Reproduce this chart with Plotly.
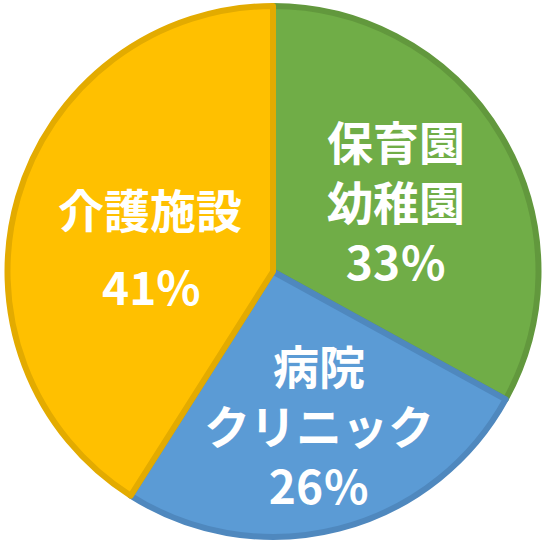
import plotly.graph_objects as go

# データ
categories = ["保育園幼稚園", "病院クリニック", "介護施設"]
values = [33, 26, 41]
name_lines = [["保育園", "幼稚園"], ["病院", "クリニック"], ["介護施設"]]
pct_suffix = ["％", "％", "%"]

colors = ["#70AD47", "#5B9BD5", "#FFC000"]
edge_colors = ["#62983D", "#4F88BE", "#E3AB00"]

W, H = 546, 543
ML, MR, MT, MB = 0, 0, 6, 6

# ラベル位置 (px): 文字ブロックの中心。介護施設だけ名前と%を離して置く
label_pos = [(396, 200), (319, 424), (150, 208)]
pct_pos = [None, None, (151, 285)]


def to_paper(px, py):
    return (px - ML) / (W - ML - MR), 1 - (py - MT) / (H - MT - MB)


fig = go.Figure()
fig.add_trace(go.Pie(
    labels=categories,
    values=values,
    sort=False,
    direction="clockwise",
    rotation=0,
    textinfo="none",
    hoverinfo="label+percent",
    marker=dict(colors=colors, line=dict(color=edge_colors, width=6)),
    showlegend=False,
))

font = dict(family="Noto Sans CJK JP", size=46, color="white", weight="bold")
for i in range(len(values)):
    pct = f"{values[i]}{pct_suffix[i]}"
    if pct_pos[i] is None:
        blocks = [("<br>".join(name_lines[i] + [pct]), label_pos[i])]
    else:
        blocks = [("<br>".join(name_lines[i]), label_pos[i]), (pct, pct_pos[i])]
    for txt, (px, py) in blocks:
        x, y = to_paper(px, py)
        fig.add_annotation(
            x=x, y=y, xref="paper", yref="paper",
            text=txt, showarrow=False,
            xanchor="center", yanchor="middle",
            font=font,
        )

fig.update_layout(
    width=W, height=H,
    margin=dict(l=ML, r=MR, t=MT, b=MB),
    paper_bgcolor="white",
    plot_bgcolor="white",
)

# ページ余白を消す
fig.write_html("out.html", config={"displayModeBar": False},
               post_script="document.body.style.margin='0';")
